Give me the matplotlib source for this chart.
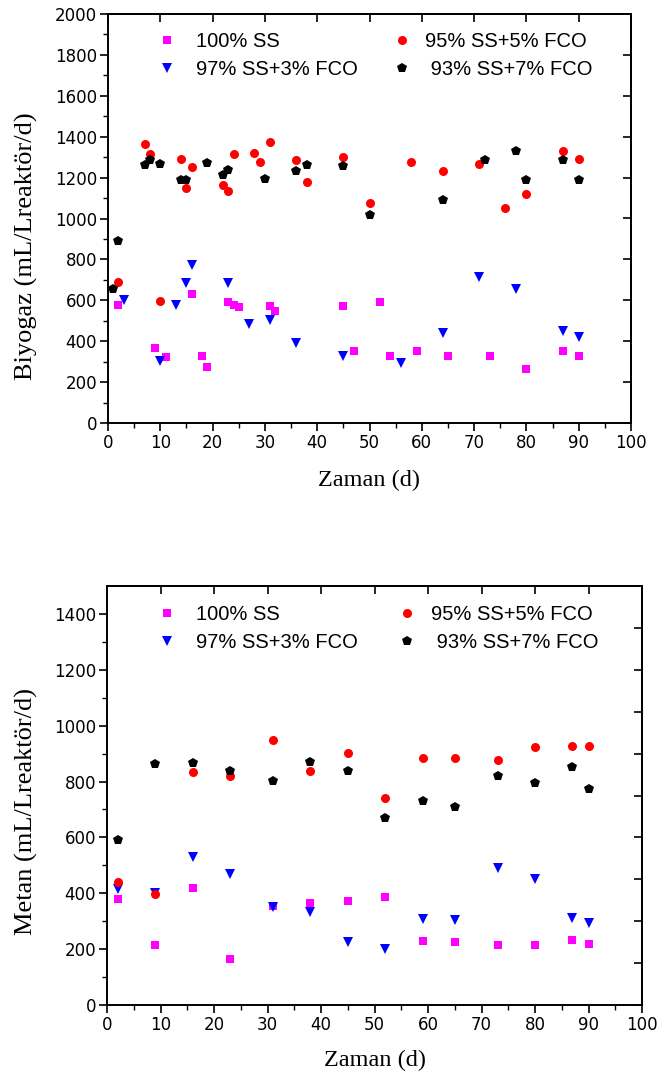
import matplotlib
matplotlib.use("Agg")
import matplotlib.pyplot as plt
import numpy as np

# ---------------- Biyogaz (top) ----------------
bio_ss_day = [2, 9, 11, 16, 18, 19, 23, 24, 25, 31, 32, 45, 47, 52, 54, 59, 65, 73, 80, 87, 90]
bio_ss_val = [575, 365, 325, 630, 330, 272, 593, 575, 566, 572, 548, 572, 350, 593, 330, 350, 330, 330, 265, 350, 330]

bio_3_day = [3, 10, 13, 15, 16, 23, 27, 31, 36, 45, 56, 64, 71, 78, 87, 90]
bio_3_val = [600, 305, 575, 683, 773, 683, 482, 504, 390, 330, 292, 442, 712, 654, 451, 422]

bio_5_day = [2, 7, 8, 10, 14, 15, 16, 22, 23, 24, 28, 29, 31, 36, 38, 45, 50, 58, 64, 71, 76, 80, 87, 90]
bio_5_val = [690, 1365, 1315, 597, 1290, 1150, 1250, 1165, 1135, 1315, 1320, 1275, 1375, 1285, 1180, 1300, 1075,
             1275, 1230, 1265, 1050, 1120, 1330, 1290]

bio_7_day = [1, 2, 7, 8, 10, 14, 15, 19, 22, 23, 30, 36, 38, 45, 50, 64, 72, 78, 80, 87, 90]
bio_7_val = [655, 890, 1260, 1285, 1265, 1190, 1190, 1270, 1215, 1235, 1195, 1230, 1260, 1255, 1015, 1090, 1285,
             1330, 1190, 1285, 1190]

# ---------------- Metan (bottom) ----------------
met_day = [2, 9, 16, 23, 31, 38, 45, 52, 59, 65, 73, 80, 87, 90]
met_ss_val = [378, 215, 418, 166, 355, 364, 374, 386, 228, 227, 215, 215, 233, 218]
met_3_val = [414, 402, 529, 469, 350, 333, 227, 202, 307, 304, 489, 450, 313, 292]
met_5_val = [440, 398, 835, 820, 949, 838, 903, 742, 886, 886, 877, 925, 927, 927]
met_7_val = [592, 862, 865, 838, 802, 871, 838, 668, 731, 710, 821, 794, 851, 772]

labels = ["100% SS", "97% SS+3% FCO", "95% SS+5% FCO", " 93% SS+7% FCO"]
x_ticks = list(range(0, 101, 10))

W, H = 658, 1077
fig = plt.figure(figsize=(W / 100, H / 100), dpi=100)

tick_font = "DejaVu Sans"
lab_font = "Liberation Serif"
leg_font = "Liberation Sans"
LEG_FS = 14.5

styles = dict(
    ss=dict(marker="s", color="#FF00FF", ms=5.5),
    c3=dict(marker="v", color="#0000FF", ms=7),
    c5=dict(marker="o", color="#FF0000", ms=6.5),
    c7=dict(marker="p", color="#000000", ms=7.5),
)


def style_axes(ax, ymax, ymajor, right_step, ylabel, xlabel_pad, ylab_x, ylab_y):
    ax.set_xlim(0, 100)
    ax.set_ylim(0, ymax)
    ax.set_xticks(x_ticks)
    ax.set_xticks(np.arange(5, 100, 10), minor=True)
    ax.set_yticks(np.arange(0, ymax + 1, ymajor) if ymax % ymajor == 0 else np.arange(0, ymax, ymajor))
    ax.set_yticks(np.arange(ymajor / 2, ymax, ymajor), minor=True)
    ax.tick_params(axis="both", which="major", direction="out", length=6, width=1.2, labelsize=12,
                   top=False, right=False, pad=2)
    ax.tick_params(axis="both", which="minor", direction="out", length=3.5, width=1.0,
                   top=False, right=False)
    for lab in ax.get_xticklabels() + ax.get_yticklabels():
        lab.set_fontfamily(tick_font)
    for sp in ax.spines.values():
        sp.set_linewidth(1.4)
    sec_x = ax.secondary_xaxis("top")
    sec_x.set_xticks(x_ticks)
    sec_x.tick_params(direction="in", length=6, width=1.2, labeltop=False)
    sec_x.spines["top"].set_linewidth(1.4)
    sec_y = ax.secondary_yaxis("right")
    sec_y.set_yticks(np.arange(0, ymax + 1, right_step))
    sec_y.tick_params(direction="in", length=6, width=1.2, labelright=False)
    sec_y.spines["right"].set_linewidth(1.4)
    ax.set_xlabel("Zaman (d)", fontfamily=lab_font, fontsize=17.5, labelpad=xlabel_pad)
    ax.set_ylabel(ylabel, fontfamily=lab_font, fontsize=19)
    ax.yaxis.set_label_coords(ylab_x, ylab_y)


def plot_series(ax, series):
    handles = []
    for (xs, ys, key), lab in zip(series, labels):
        st = styles[key]
        h, = ax.plot(xs, ys, linestyle="none", marker=st["marker"], color=st["color"],
                     markersize=st["ms"], markeredgewidth=0, label=lab, clip_on=False)
        handles.append(h)
    return handles


def add_legends(ax, handles, x_left, x_right, y_top, pad_left, pad_right):
    common = dict(loc="upper left", frameon=False, prop={"family": leg_font, "size": LEG_FS},
                  labelspacing=0.45, handlelength=1.2, borderaxespad=0, borderpad=0)
    leg1 = ax.legend(handles[:2], labels[:2], bbox_to_anchor=(x_left, y_top),
                     handletextpad=pad_left, **common)
    ax.add_artist(leg1)
    ax.legend(handles[2:], labels[2:], bbox_to_anchor=(x_right, y_top),
              handletextpad=pad_right, **common)


# Top axes (pixel box: x 108..631, y 14..423)
ax1 = fig.add_axes([108 / W, 1 - 423 / H, 523 / W, 409 / H])
h1 = plot_series(ax1, [(bio_ss_day, bio_ss_val, "ss"), (bio_3_day, bio_3_val, "c3"),
                       (bio_5_day, bio_5_val, "c5"), (bio_7_day, bio_7_val, "c7")])
style_axes(ax1, 2000, 200, 200, "Biyogaz (mL/Lreaktör/d)", 13, -0.133, 0.433)
add_legends(ax1, h1, 0.0899, 0.539, 0.956, 0.85, 0.55)

# Bottom axes (pixel box: x 107..642, y 586..1005)
ax2 = fig.add_axes([107 / W, 1 - 1005 / H, 535 / W, 419 / H])
h2 = plot_series(ax2, [(met_day, met_ss_val, "ss"), (met_day, met_3_val, "c3"),
                       (met_day, met_5_val, "c5"), (met_day, met_7_val, "c7")])
style_axes(ax2, 1500, 200, 150, "Metan (mL/Lreaktör/d)", 11, -0.129, 0.461)
add_legends(ax2, h2, 0.0897, 0.538, 0.955, 0.85, 0.6)

fig.savefig("out.png", dpi=100)
